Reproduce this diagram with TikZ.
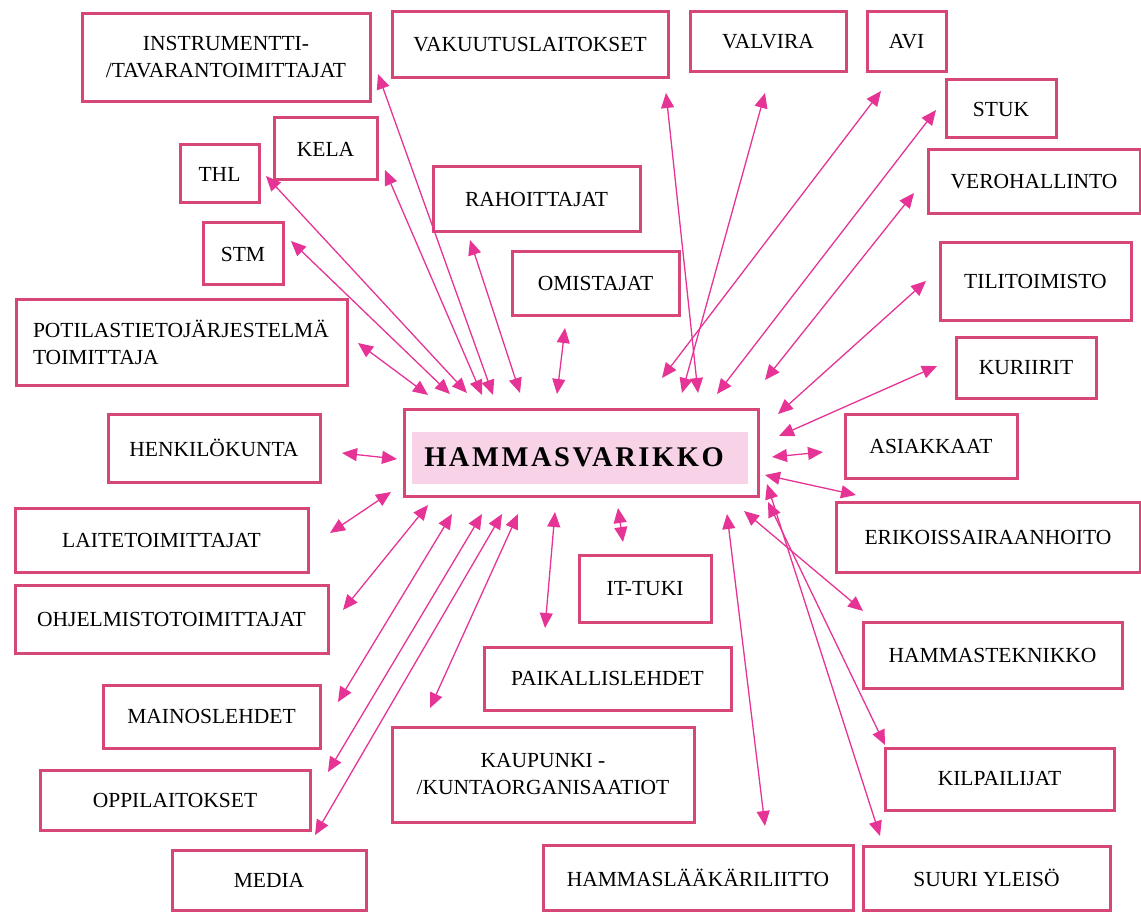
\documentclass[tikz,border=0pt]{standalone}
\usepackage{fontspec}
\setmainfont{Liberation Serif}
\usetikzlibrary{arrows.meta}
\definecolor{boxred}{RGB}{214,70,118}
\definecolor{linkpink}{RGB}{230,52,150}
\definecolor{hilite}{RGB}{248,211,231}

\begin{document}
\begin{tikzpicture}[x=1pt, y=-1pt,
    B/.style 2 args = {rectangle, draw=boxred, line width=3pt,% boxes round the centre
                minimum width=#1pt, minimum height=#2pt,
                inner sep=0pt, outer sep=0pt, align=center,
                font=\fontsize{21.5}{27}\selectfont},
    L/.style = {draw=linkpink, line width=1.3pt,% double arrows
                {Triangle[length=15pt,width=13pt]}-{Triangle[length=15pt,width=13pt]}},
                        ]
\useasboundingbox (0,0) rectangle (1141,912);
% centre
\node[fill=hilite, minimum width=336pt, minimum height=52pt, inner sep=0pt]
      (hv-fill) at (580,458) {};
\node[inner sep=0pt, font=\fontsize{28.5}{30}\bfseries\addfontfeature{LetterSpace=9}]
      (hv-text) at (574,457.5) {HAMMASVARIKKO};
\node[B={354}{87}] (hv) at (581,452.5) {};
% boxes: name/x/y/width/height/text
\foreach \n/\x/\y/\w/\h/\t in {
    instr/226/57.5/288/88/{INSTRUMENTTI-\\/TAVARANTOIMITTAJAT},
    vakuutus/530/45/276/66/VAKUUTUSLAITOKSET,
    valvira/768/42/156/60/VALVIRA,
    avi/906.5/42/79/60/AVI,
    stuk/1001/109/110/58/STUK,
    vero/1034/182/212/64/VEROHALLINTO,
    tili/1035.5/281.5/191/77/TILITOIMISTO,
    kuriirit/1026/367.5/140/61/KURIIRIT,
    asiakkaat/931/446/172/64/ASIAKKAAT,
    erikois/988/537/304/70/ERIKOISSAIRAANHOITO,
    teknikko/992.5/655/259/66/HAMMASTEKNIKKO,
    kilpailijat/999.5/779/229/62/KILPAILIJAT,
    yleiso/986.5/878/247/64/SUURI YLEISÖ,
    liitto/698/877.5/310/65/HAMMASLÄÄKÄRILIITTO,
    kaupunki/543/774.5/302/95/{KAUPUNKI -\\/KUNTAORGANISAATIOT},
    paikallis/607.5/678.5/247/63/PAIKALLISLEHDET,
    ittuki/645/588.5/132/67/IT-TUKI,
    media/269/880/194/60/MEDIA,
    oppilaitokset/175/800/270/60/OPPILAITOKSET,
    mainos/211.5/716.5/217/63/MAINOSLEHDET,
    ohjelmisto/171.5/619/313/68/OHJELMISTOTOIMITTAJAT,
    laite/161.5/540/293/64/LAITETOIMITTAJAT,
    henkilo/214/448/212/68/HENKILÖKUNTA,
    stm/243/254/80/62/STM,
    thl/219.5/174/79/58/THL,
    kela/325.5/149/103/62/KELA,
    rahoittajat/536.5/199.5/207/65/RAHOITTAJAT,
    omistajat/595.5/283.5/167/63/OMISTAJAT}
    \node[B={\w}{\h}] (\n) at (\x,\y) {\t};
\node[B={331}{86}, align=left, text width=298pt] (potilas) at (182,342)
      {POTILASTIETOJÄRJESTELMÄ\\TOIMITTAJA};
% arrows: name/outer end/centre end
\foreach \n/\ax/\ay/\bx/\by in {
    instr/378/74/493/395, kela/385/170/482/395, thl/266/176/467/393,
    stm/291/241/450/394, potilas/358/343/428/395, rahoittajat/470/240/520/393,
    omistajat/565/328/557/394, vakuutus/666/93/698/393, valvira/765/93/682/393,
    avi/881/91/662/378, stuk/936/110/717/394, vero/914/193/765/380,
    tili/926/281/778/414, kuriirit/937/366/779/436, asiakkaat/823/452/772/457,
    erikois/856/495/765/475, teknikko/863/611/744/511, kilpailijat/885/745/768/502,
    yleiso/880/836/767/484, liitto/765/826/727/514, ittuki/623/542/618/508,
    paikallis/545/628/555/512, kaupunki/430/708/518/514, media/315/835/502/514,
    oppilaitokset/328/772/482/514, mainos/338/702/452/514, ohjelmisto/343/610/428/505,
    laite/330/533/391/492, henkilo/342/453/397/459}
{
    \coordinate (\n-out) at (\ax,\ay);
    \coordinate (\n-in) at (\bx,\by);
    \draw[L] (\n-out) -- (\n-in);
}
\end{tikzpicture}
\end{document}
